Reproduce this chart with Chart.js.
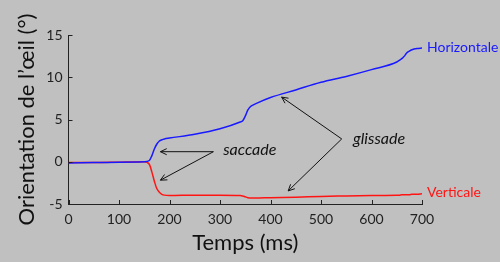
<!DOCTYPE html>
<html>
<head>
<meta charset="utf-8">
<script src="https://cdn.jsdelivr.net/npm/chart.js@4.4.1/dist/chart.umd.min.js"></script>
<style>
html, body { margin: 0; padding: 0; background: #c0c0c0; }
#wrap { width: 500px; height: 262px; }
</style>
</head>
<body>
<div id="wrap"><canvas id="chart-area" width="500" height="262"></canvas></div>
<script>
'use strict';

// temps (ms)
const timeMs = [0, 50, 100, 150, 160, 165, 170, 175, 180, 185, 190, 200, 250, 300, 340, 345,
  350, 355, 360, 365, 370, 400, 450, 500, 550, 600, 650, 655, 660, 665, 670, 675, 680, 690, 700];
// orientation (deg)
const horizontale = [-0.15, -0.1, -0.05, 0.0, 0.15, 0.7, 1.5, 2.1, 2.45, 2.6, 2.7, 2.8, 3.25, 3.9, 4.7, 4.85,
  5.4, 6.1, 6.5, 6.7, 6.85, 7.6, 8.5, 9.4, 10.1, 10.9, 11.8, 12.0, 12.2, 12.5, 12.9, 13.1, 13.25, 13.4, 13.45];
const verticale = [-0.1, -0.1, -0.05, 0.0, -0.3, -1.2, -2.3, -3.2, -3.6, -3.85, -3.95, -4.0, -3.95, -3.95, -4.0, -4.05,
  -4.15, -4.25, -4.3, -4.3, -4.3, -4.25, -4.2, -4.1, -4.05, -4.0, -3.95, -3.95, -3.9, -3.9, -3.9, -3.9, -3.85, -3.85, -3.8];
const seriesNames = ['Horizontale', 'Verticale'];
const xTicks = [0, 100, 200, 300, 400, 500, 600, 700];
const yTicks = [-5, 0, 5, 10, 15];

const FONT = 'Lato';
const colors = ['rgb(25,25,255)', 'rgb(255,20,20)'];

// annotations in data units
const notes = [
  {text: 'saccade', at: [359, 1.4], from: [287, 1.19], to: [[182, 1.19], [182, -2.18]]},
  {text: 'glissade', at: [615, 2.74], from: [541, 2.7], to: [[422, 7.65], [435, -3.45]]}
];

var toXY = (xs, ys) => xs.map((x, i) => ({x: x, y: ys[i]}));

var drawArrow = (ctx, x1, y1, x2, y2) => {
  let a = Math.atan2(y2 - y1, x2 - x1), h = 7;
  ctx.beginPath();
  ctx.moveTo(x1, y1);
  ctx.lineTo(x2, y2);
  ctx.moveTo(x2 - h * Math.cos(a - 0.45), y2 - h * Math.sin(a - 0.45));
  ctx.lineTo(x2, y2);
  ctx.lineTo(x2 - h * Math.cos(a + 0.45), y2 - h * Math.sin(a + 0.45));
  ctx.stroke();
};

var extras = {
  id: 'extras',
  afterDraw(chart) {
    const ctx = chart.ctx, xs = chart.scales.x, ys = chart.scales.y;
    ctx.save();
    // inward tick marks
    ctx.strokeStyle = '#222';
    ctx.lineWidth = 1;
    ctx.beginPath();
    for (const t of xTicks) {
      let px = Math.round(xs.getPixelForValue(t)) + 0.5;
      ctx.moveTo(px, ys.bottom);
      ctx.lineTo(px, ys.bottom - 4);
    }
    for (const t of yTicks) {
      let py = Math.round(ys.getPixelForValue(t)) + 0.5;
      ctx.moveTo(xs.left, py);
      ctx.lineTo(xs.left + 4, py);
    }
    ctx.stroke();

    // arrows + italic words
    ctx.strokeStyle = '#111';
    ctx.fillStyle = '#111';
    ctx.font = 'italic 16px ' + FONT;
    ctx.textAlign = 'center';
    ctx.textBaseline = 'middle';
    for (const n of notes) {
      let fx = xs.getPixelForValue(n.from[0]), fy = ys.getPixelForValue(n.from[1]);
      for (const t of n.to) {
        drawArrow(ctx, fx, fy, xs.getPixelForValue(t[0]), ys.getPixelForValue(t[1]));
      }
      ctx.fillText(n.text, xs.getPixelForValue(n.at[0]), ys.getPixelForValue(n.at[1]));
    }

    // series names at line ends
    ctx.font = '14px ' + FONT;
    ctx.textAlign = 'left';
    chart.data.datasets.forEach((ds, i) => {
      let pts = chart.getDatasetMeta(i).data, last = pts[pts.length - 1];
      ctx.fillStyle = colors[i];
      ctx.fillText(ds.label, last.x + 5, last.y - 1);
    });
    ctx.restore();
  }
};

var config = {
  type: 'line',
  data: {
    datasets: [
      {label: seriesNames[0], data: toXY(timeMs, horizontale), borderColor: colors[0], borderWidth: 1.5,
        pointRadius: 0, cubicInterpolationMode: 'monotone', fill: false},
      {label: seriesNames[1], data: toXY(timeMs, verticale), borderColor: colors[1], borderWidth: 1.5,
        pointRadius: 0, cubicInterpolationMode: 'monotone', fill: false}
    ]
  },
  options: {
    responsive: false,
    animation: false,
    layout: {padding: {left: 0, right: 78, top: 35, bottom: 0}},
    plugins: {legend: {display: false}, tooltip: {enabled: false}},
    scales: {
      x: {
        type: 'linear', min: 0, max: 700,
        afterBuildTicks: (s) => { s.ticks = xTicks.map(v => ({value: v})); },
        afterFit: (s) => { s.height = 58; },
        grid: {display: false, drawTicks: false},
        border: {display: true, color: '#222', width: 1},
        ticks: {color: '#222', font: {family: FONT, size: 14}, padding: 7, maxRotation: 0},
        title: {display: true, text: 'Temps (ms)', color: '#111', font: {family: FONT, size: 22}, padding: {top: 0, bottom: 6}}
      },
      y: {
        type: 'linear', min: -5, max: 15,
        afterBuildTicks: (s) => { s.ticks = yTicks.map(v => ({value: v})); },
        afterFit: (s) => { s.width = 68.5; },
        grid: {display: false, drawTicks: false},
        border: {display: true, color: '#222', width: 1},
        ticks: {color: '#222', font: {family: FONT, size: 14}, padding: 6},
        title: {display: true, text: 'Orientation de l\u2019\u0153il (\u00b0)', color: '#111', font: {family: FONT, size: 22}, padding: {top: 14, bottom: 0}}
      }
    }
  },
  plugins: [extras]
};

window.onload = function() {
  var ctx = document.getElementById('chart-area').getContext('2d');
  window.myLine = new Chart(ctx, config);
};
</script>
</body>
</html>
